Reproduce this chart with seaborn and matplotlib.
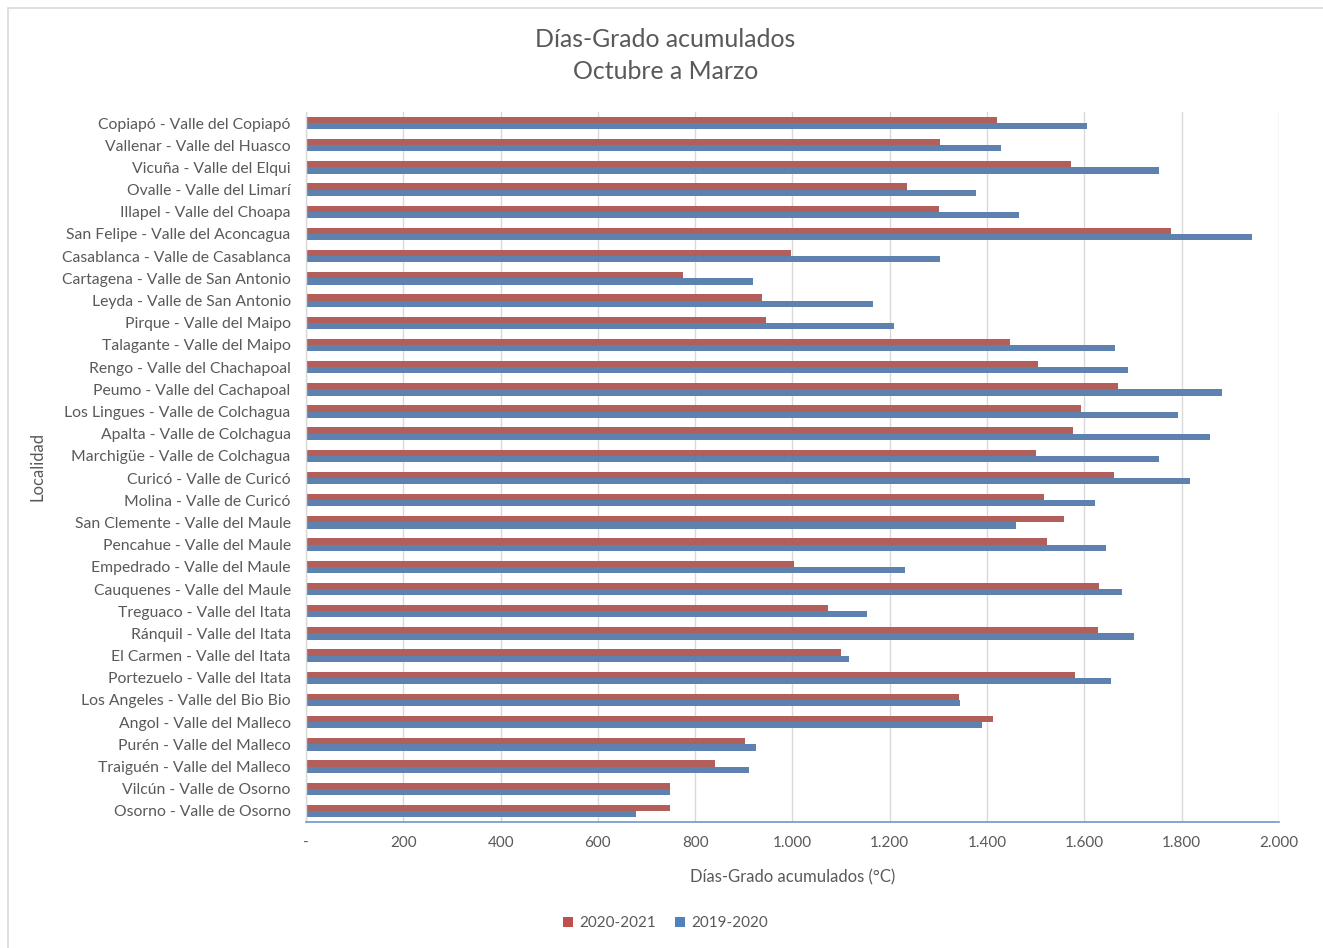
import matplotlib
matplotlib.use("Agg")
import matplotlib.pyplot as plt
from matplotlib.patches import Rectangle, Patch
from matplotlib.ticker import FuncFormatter, MultipleLocator
import pandas as pd
import seaborn as sns

localidades = [
    "Copiapó - Valle del Copiapó",
    "Vallenar - Valle del Huasco",
    "Vicuña - Valle del Elqui",
    "Ovalle - Valle del Limarí",
    "Illapel - Valle del Choapa",
    "San Felipe - Valle del Aconcagua",
    "Casablanca - Valle de Casablanca",
    "Cartagena - Valle de San Antonio",
    "Leyda - Valle de San Antonio",
    "Pirque - Valle del Maipo",
    "Talagante - Valle del Maipo",
    "Rengo - Valle del Chachapoal",
    "Peumo - Valle del Cachapoal",
    "Los Lingues - Valle de Colchagua",
    "Apalta - Valle de Colchagua",
    "Marchigüe - Valle de Colchagua",
    "Curicó - Valle de Curicó",
    "Molina - Valle de Curicó",
    "San Clemente - Valle del Maule",
    "Pencahue - Valle del Maule",
    "Empedrado - Valle del Maule",
    "Cauquenes - Valle del Maule",
    "Treguaco - Valle del Itata",
    "Ránquil - Valle del Itata",
    "El Carmen - Valle del Itata",
    "Portezuelo - Valle del Itata",
    "Los Angeles - Valle del Bio Bio",
    "Angol - Valle del Malleco",
    "Purén - Valle del Malleco",
    "Traiguén - Valle del Malleco",
    "Vilcún - Valle de Osorno",
    "Osorno - Valle de Osorno",
]

temporada_2020_2021 = [
    1421, 1304, 1572, 1236, 1301, 1779, 997, 775, 937, 946, 1448,
    1504, 1669, 1593, 1577, 1501, 1660, 1518, 1558, 1524, 1003,
    1631, 1073, 1628, 1099, 1581, 1342, 1412, 902, 840, 749, 749,
]

temporada_2019_2020 = [
    1605, 1428, 1753, 1377, 1466, 1944, 1304, 918, 1165, 1209, 1664,
    1690, 1882, 1793, 1859, 1754, 1817, 1622, 1459, 1645, 1232,
    1678, 1153, 1702, 1116, 1654, 1344, 1389, 925, 911, 749, 678,
]

temporadas = ["2020-2021", "2019-2020"]
colores = {"2020-2021": "#C0504D", "2019-2020": "#4F81BD"}

df = pd.concat([
    pd.DataFrame({"Localidad": localidades, "Temporada": temporadas[0], "Valor": temporada_2020_2021}),
    pd.DataFrame({"Localidad": localidades, "Temporada": temporadas[1], "Valor": temporada_2019_2020}),
], ignore_index=True)

sns.set_theme(style="white")
plt.rcParams["font.family"] = ["Lato", "DejaVu Sans"]
texto = "#595959"

fig = plt.figure(figsize=(13.23, 9.48), dpi=100)
ax = fig.add_axes([0.2313, 0.1329, 0.9667 - 0.2313, 0.8819 - 0.1329])

sns.barplot(
    data=df, y="Localidad", x="Valor", hue="Temporada",
    hue_order=temporadas, order=localidades, palette=colores,
    orient="h", width=0.56, linewidth=0, ax=ax, legend=False,
)

ax.set_xlim(0, 2000)
ax.xaxis.set_major_locator(MultipleLocator(200))
ax.xaxis.set_major_formatter(FuncFormatter(
    lambda v, p: "-" if v == 0 else f"{int(v):,}".replace(",", ".")))
ax.grid(axis="x", color="#D9D9D9", linewidth=1)
ax.grid(axis="y", visible=False)
ax.set_axisbelow(True)

for s in ("top", "right"):
    ax.spines[s].set_visible(False)
ax.spines["left"].set_color("#D9D9D9")
ax.spines["left"].set_linewidth(1)
ax.spines["bottom"].set_color("#6F96CA")
ax.spines["bottom"].set_linewidth(1.2)

ax.tick_params(axis="y", length=0, pad=11, labelsize=11.3, labelcolor=texto)
ax.tick_params(axis="x", length=0, pad=10, labelsize=11, labelcolor=texto)

ax.set_xlabel("Días-Grado acumulados (°C)", fontsize=12, color=texto, labelpad=14)
ax.set_ylabel("Localidad", fontsize=12, color=texto)
ax.yaxis.set_label_coords(-0.268, 0.5)

fig.text(0.503, 0.97, "Días-Grado acumulados\nOctubre a Marzo", ha="center", va="top",
         fontsize=17.9, color=texto, linespacing=1.45)

handles = [Patch(facecolor=colores[t], edgecolor="none") for t in temporadas]
fig.legend(handles, temporadas, loc="center", bbox_to_anchor=(0.503, 0.026), ncol=2,
           frameon=False, fontsize=11, labelcolor=texto, handlelength=0.7,
           handleheight=0.7, handletextpad=0.4, columnspacing=1.2)

# Chart area frame
fig.patches.append(Rectangle((8 / 1323, -0.05), 1.1, 1 - 8 / 948 + 0.05,
                             transform=fig.transFigure, fill=False,
                             edgecolor="#D9D9D9", linewidth=1.2, zorder=0))

fig.savefig("out.png", dpi=100, facecolor="white")
